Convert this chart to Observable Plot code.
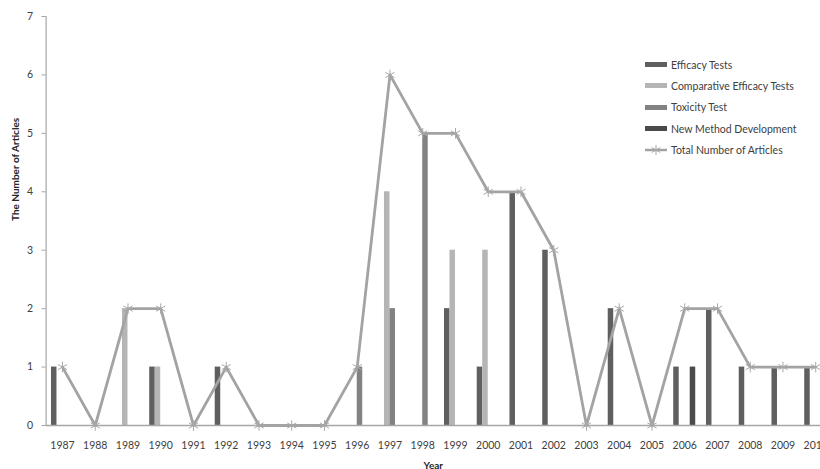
<!DOCTYPE html>
<html>
<head>
<meta charset="utf-8">
<script src="https://cdn.jsdelivr.net/npm/d3@7"></script>
<script src="https://cdn.jsdelivr.net/npm/@observablehq/plot@0.6"></script>
<style>
  html, body { margin: 0; padding: 0; background: #fff; overflow: hidden; }
  #wrap { position: relative; width: 820px; height: 469px; overflow: hidden; }
  #wrap svg { overflow: hidden; }
  .legend { position: absolute; left: 645px; top: 54px; font-family: Lato, sans-serif; font-size: 10.5px; color: #404040; }
  .legend .row { height: 21.3px; display: flex; align-items: center; white-space: nowrap; }
  .legend .sw { width: 22px; height: 5px; margin-right: 4px; }
  .legend svg { margin-right: 4px; overflow: visible; }
</style>
</head>
<body>
<div id="wrap"></div>
<script>
const years = ["1987","1988","1989","1990","1991","1992","1993","1994","1995","1996","1997","1998",
               "1999","2000","2001","2002","2003","2004","2005","2006","2007","2008","2009","2010"];
const efficacy    = [1,0,0,1,0,1,0,0,0,0,0,0,2,1,4,3,0,2,0,1,2,1,1,1];
const comparative = [0,0,2,1,0,0,0,0,0,0,4,0,3,3,0,0,0,0,0,0,0,0,0,0];
const toxicity    = [0,0,0,0,0,0,0,0,0,1,2,5,0,0,0,0,0,0,0,0,0,0,0,0];
const newMethod   = [0,0,0,0,0,0,0,0,0,0,0,0,0,0,0,0,0,0,0,1,0,0,0,0];
const total       = [1,0,2,2,0,1,0,0,0,1,6,5,5,4,4,3,0,2,0,2,2,1,1,1];
const yTicks = [0,1,2,3,4,5,6,7];

const seriesNames = ["Efficacy Tests","Comparative Efficacy Tests","Toxicity Test","New Method Development"];
const seriesValues = [efficacy, comparative, toxicity, newMethod];
const seriesColors = ["#5f5f5f","#b5b5b5","#828282","#4a4a4a"];
const lineColor = "#a3a3a3";

const xRange = [45.6, 831.6];
const bw = (xRange[1] - xRange[0]) / years.length;
const slot = 5.5;

const barMarks = seriesValues.map((vals, i) => {
  const left = bw / 2 - 2 * slot + i * slot;
  const right = bw - left - slot;
  const rows = years.map((y, j) => ({year: y, value: vals[j]})).filter(d => d.value > 0);
  return Plot.rectY(rows, {x: "year", y: "value", fill: seriesColors[i], insetLeft: left, insetRight: right});
});

const totals = years.map((y, j) => ({year: y, total: total[j]}));

const chart = Plot.plot({
  width: 820,
  height: 469,
  marginLeft: 45.6,
  marginRight: 0,
  marginTop: 16,
  marginBottom: 44,
  style: {fontFamily: "Lato, sans-serif", fontSize: "10.5px", color: "#404040", background: "#fff"},
  x: {type: "band", domain: years, range: xRange, padding: 0, round: false},
  y: {domain: [0, 7]},
  marks: [
    ...barMarks,
    Plot.ruleY([0], {stroke: "#a6a6a6", strokeWidth: 1.5}),
    Plot.frame({anchor: "left", stroke: "#a6a6a6", strokeWidth: 1.2}),
    Plot.axisY({ticks: yTicks, tickSize: 4, tickPadding: 9, stroke: "#a6a6a6", label: null, tickFormat: d => d}),
    Plot.axisX({tickSize: 0, tickPadding: 16, label: null}),
    Plot.line(totals, {x: "year", y: "total", stroke: lineColor, strokeWidth: 2.8}),
    Plot.dot(totals, {x: "year", y: "total", symbol: "asterisk", r: 5, stroke: "#a8a8a8", strokeWidth: 1}),
    Plot.text(["The Number of Articles"], {frameAnchor: "left", rotate: -90, dx: -30.6, dy: 0, fontWeight: "bold", fontSize: 10, fill: "#262626"}),
    Plot.text(["Year"], {frameAnchor: "bottom", dy: 43, lineAnchor: "bottom", fontWeight: "bold", fontSize: 10, fill: "#262626"})
  ]
});

const wrap = document.getElementById("wrap");
wrap.appendChild(chart);

const legend = document.createElement("div");
legend.className = "legend";
seriesNames.forEach((name, i) => {
  const row = document.createElement("div");
  row.className = "row";
  const sw = document.createElement("span");
  sw.className = "sw";
  sw.style.background = seriesColors[i];
  row.appendChild(sw);
  row.appendChild(document.createTextNode(name));
  legend.appendChild(row);
});
const lrow = document.createElement("div");
lrow.className = "row";
lrow.innerHTML = `<svg width="22" height="10"><line x1="0" y1="5" x2="22" y2="5" stroke="${lineColor}" stroke-width="2.5"/>
<path d="M11,0V10M6.7,2.5L15.3,7.5M6.7,7.5L15.3,2.5" stroke="#a8a8a8" stroke-width="1"/></svg>`;
lrow.appendChild(document.createTextNode("Total Number of Articles"));
legend.appendChild(lrow);
wrap.appendChild(legend);
</script>
</body>
</html>
